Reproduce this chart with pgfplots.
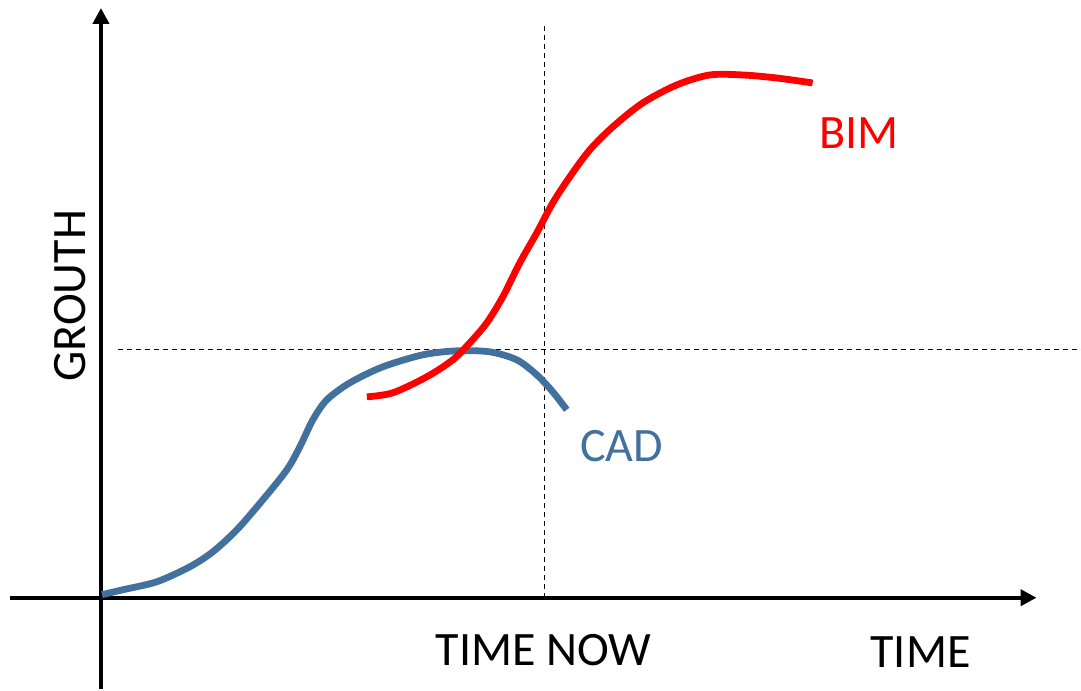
\documentclass[border=0pt]{standalone}
\usepackage{pgfplots}
\pgfplotsset{compat=1.18}
\usetikzlibrary{arrows.meta}
\usepackage{fontspec}
\setmainfont{Carlito}
\definecolor{cadblue}{RGB}{65,113,156}
\begin{document}
\begin{tikzpicture}
\begin{axis}[
  scale only axis, width=540.5pt, height=344.5pt,
  xmin=0, xmax=1081, ymin=0, ymax=689,
  axis line style={draw=none}, ticks=none,
  clip=false,
]
\path (rel axis cs:0,0) rectangle (rel axis cs:1,1);
% axes
\draw[line width=2pt, -{Triangle[length=8pt,width=8pt]}] (axis cs:101,0) -- (axis cs:101,681);
\draw[line width=2pt, -{Triangle[length=8pt,width=8pt]}] (axis cs:10,91) -- (axis cs:1037,91);
% guides
\draw[line width=0.5pt, dash pattern=on 2.5pt off 2pt] (axis cs:545,91) -- (axis cs:545,664);
\draw[line width=0.5pt, dash pattern=on 2.5pt off 2pt] (axis cs:118,339) -- (axis cs:1081,339);
% CAD
\addplot[cadblue, line width=3.4pt, smooth, tension=0.5] coordinates {
(102,94) (123,99) (157,107) (190,122) (213,137) (237,159) (263,189) (287,219)
(300,242) (313,269) (327,289) (350,306) (383,322) (423,334) (457,338) (490,337)
(517,329) (537,314) (553,297) (567,279)
};
% BIM
\addplot[red, line width=3.4pt, smooth, tension=0.5] coordinates {
(367,292) (393,296) (427,312) (453,329) (470,346) (487,366) (503,392) (520,426)
(537,456) (553,486) (570,512) (590,539) (613,562) (643,586) (677,604) (710,614)
(743,614) (777,611) (813,606)
};
\node[font=\fontsize{24}{29}\selectfont, rotate=90] at (axis cs:70,393) {GROUTH};
\node[font=\fontsize{24}{29}\selectfont] at (axis cs:544,39) {TIME NOW};
\node[font=\fontsize{24}{29}\selectfont] at (axis cs:921,37) {TIME};
\node[font=\fontsize{24}{29}\selectfont, text=red] at (axis cs:859,556) {BIM};
\node[font=\fontsize{24}{29}\selectfont, text=cadblue] at (axis cs:622,243) {CAD};
\end{axis}
\end{tikzpicture}
\end{document}
